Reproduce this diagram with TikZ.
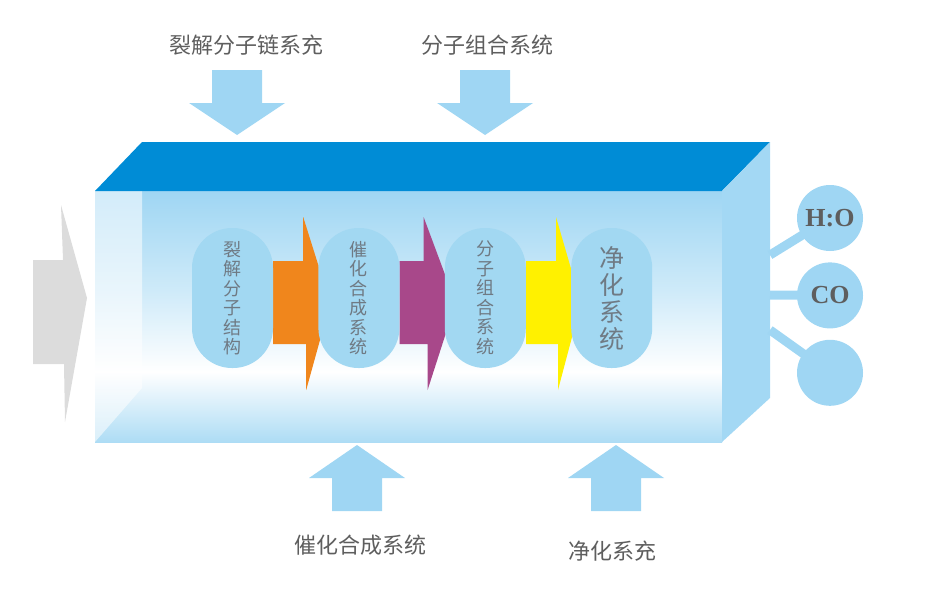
\documentclass[tikz,border=0pt]{standalone}
\usepackage{fontspec}
\newfontfamily\cjk{Noto Sans CJK SC}
\newfontfamily\chemfont{Liberation Serif}
\usetikzlibrary{positioning}

\definecolor{topblue}{HTML}{008CD6}
\definecolor{sideblue}{HTML}{A3D8F4}
\definecolor{lightblue}{HTML}{9FD6F3}
\definecolor{stageblue}{HTML}{A2D8F2}
\definecolor{feedgray}{HTML}{DCDCDC}
\definecolor{txtgray}{HTML}{5E5E5E}
\definecolor{stagetxt}{HTML}{6F7A84}
\definecolor{flowA}{HTML}{F0861C}
\definecolor{flowB}{HTML}{A8488A}
\definecolor{flowC}{HTML}{FFF100}

% the box maps onto 25bp..75bp of the shading
\pgfdeclareverticalshading{boxfront}{100bp}{color(0bp)=(lightblue); color(25bp)=(lightblue!85!white); color(39bp)=(white); color(55bp)=(lightblue!50!white); color(75bp)=(lightblue); color(100bp)=(lightblue)}
\pgfdeclarelayer{boxlayer}
\pgfdeclarelayer{flowlayer}
\pgfsetlayers{boxlayer,flowlayer,main}

\begin{document}
\begin{tikzpicture}[x=1pt,y=-1pt,node distance=45pt]
    \tikzstyle{stage}=[rectangle,rounded corners=40pt,fill=stageblue,minimum width=81pt,minimum height=140pt,inner sep=0pt,align=center,text=stagetxt,font=\cjk\fontsize{18}{19.5}\selectfont]
    \tikzstyle{product}=[circle,fill=lightblue,minimum size=66pt,inner sep=0pt,text=txtgray,font=\chemfont\bfseries\fontsize{26}{26}\selectfont]
    \tikzstyle{caption}=[text=txtgray,font=\cjk\fontsize{22}{22}\selectfont]
    \tikzstyle{link}=[draw=lightblue,line width=9pt]
    \useasboundingbox (0,0) rectangle (936,594);

    % reactor box
    \begin{pgfonlayer}{boxlayer}
    \shade[shading=boxfront] (95,191) rectangle (722,442);
    \fill[white,opacity=0.55] (95,191) -- (142,191) -- (142,388) -- (95,442) -- cycle;
    \fill[topblue] (95,191) -- (142,142) -- (770,142) -- (722,191) -- cycle;
    \fill[sideblue] (722,191) -- (770,142) -- (770,398) -- (722,442) -- cycle;
    \end{pgfonlayer}

    % feed arrows
    \fill[feedgray] (33,260) -- (63,260) -- (61,205) -- (87,298) -- (65,422) -- (64,364) -- (33,364) -- cycle;
    \foreach \cx in {237,485}
        \fill[lightblue] (\cx-25,70) -- (\cx+25,70) -- (\cx+25,103) -- (\cx+48,103) -- (\cx,135) -- (\cx-48,103) -- (\cx-25,103) -- cycle;
    \foreach \cx in {357,616}
        \fill[lightblue] (\cx-25,511) -- (\cx+25,511) -- (\cx+25,478) -- (\cx+48,478) -- (\cx,445) -- (\cx-48,478) -- (\cx-25,478) -- cycle;

    \node[caption] (feed1) at (246,45) {裂解分子链系充};
    \node[caption] (feed2) at (487,45) {分子组合系统};
    \node[caption] (feed3) at (360,545) {催化合成系统};
    \node[caption] (feed4) at (612,551) {净化系充};

    % stages
    \node[stage] (s1) at (232.5,298) {裂\\解\\分\\子\\结\\构};
    \node[stage, right=45pt of s1] (s2) {催\\化\\合\\成\\系\\统};
    \node[stage, right=45pt of s2] (s3) {分\\子\\组\\合\\系\\统};
    \node[stage, right=45pt of s3, font=\cjk\fontsize{25}{27}\selectfont] (s4) {净\\化\\系\\统};

    % products
    \node[product] (h2o) at (830,218) {H:O};
    \node[product, below=11pt of h2o] (co) {CO};
    \node[product, below=11pt of co] (rest) {};
    \coordinate (o1) at (770,255);
    \coordinate (o2) at (770,295);
    \coordinate (o3) at (770,330);

    % flows
    \begin{pgfonlayer}{flowlayer}
    \fill[flowA] (s1.east) ++(0,-37) -- ++(30,0) -- ++(0,-44) -- ++(27,86) -- ++(-24,87) -- ++(0,-46) -- ++(-33,0) -- cycle;
    \fill[flowB] (s2.east) ++(0,-37) -- ++(24,0) -- ++(0,-44) -- ++(32,86) -- ++(-28,87) -- ++(0,-46) -- ++(-28,0) -- cycle;
    \fill[flowC] (s3.east) ++(0,-37) -- ++(30,0) -- ++(0,-44) -- ++(25,86) -- ++(-23,87) -- ++(0,-46) -- ++(-32,0) -- cycle;
    \draw[link] (o1) -- (h2o.center);
    \draw[link] (o2) -- (co.center);
    \draw[link] (o3) -- (rest.center);
    \end{pgfonlayer}
\end{tikzpicture}
\end{document}
